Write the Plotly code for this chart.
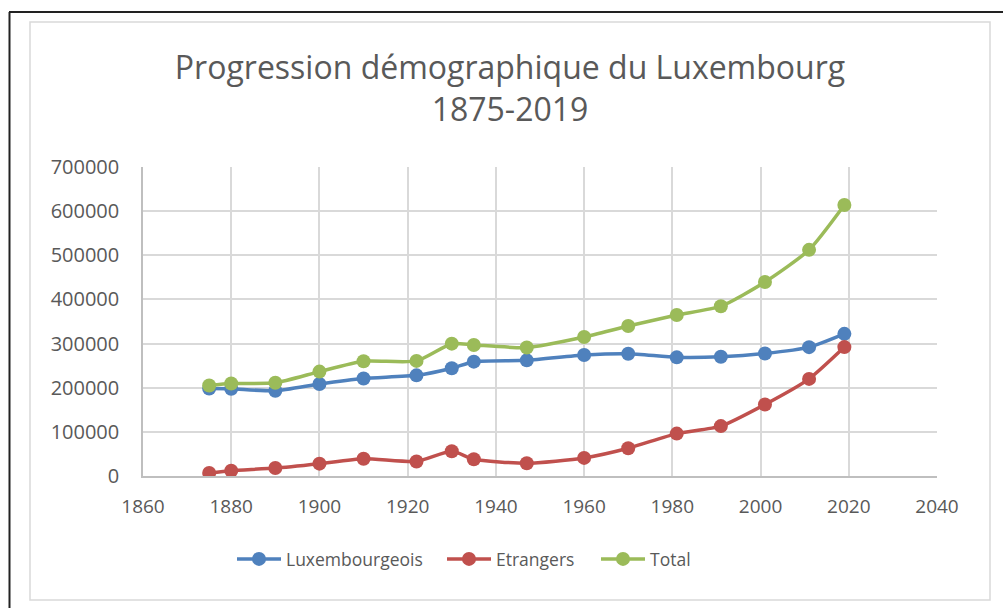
import plotly.graph_objects as go

years = [1875, 1880, 1890, 1900, 1910, 1922, 1930, 1935, 1947, 1960, 1970, 1981, 1991, 2001, 2011, 2019]
luxembourgeois = [198000, 197500, 193000, 208500, 221000, 228000, 244000, 259000, 262000, 274000, 277000, 268800, 270000, 277500, 291900, 322000]
etrangers = [7000, 12000, 18000, 28000, 39000, 33000, 56000, 38000, 29000, 41000, 63000, 96000, 113000, 162000, 220000, 292000]
total = [205158, 209570, 211088, 236543, 259891, 260767, 299782, 296913, 290992, 314889, 339841, 364602, 384634, 439539, 512353, 613894]

series = [
    ("Luxembourgeois", luxembourgeois, "#4F81BD"),
    ("Etrangers", etrangers, "#C0504D"),
    ("Total", total, "#9BBB59"),
]

W, H = 1003, 608
L, R, T, B = 143, 937, 167, 476
FONT = "Open Sans"

def px(x):
    return (x - L) / (R - L)

def py(y):
    return (B - y) / (B - T)

legend_names = ["legend", "legend2", "legend3"]
legend_left = [232, 442, 596]

fig = go.Figure()
for (name, vals, col), lg in zip(series, legend_names):
    fig.add_trace(go.Scatter(
        x=years, y=vals, name=name, mode="lines+markers",
        line=dict(color=col, width=3.5, shape="spline", smoothing=0.6),
        marker=dict(color=col, size=14),
        legend=lg,
    ))

shapes = [
    dict(type="line", xref="paper", yref="paper", x0=px(9), x1=px(1003), y0=py(12), y1=py(12),
         line=dict(color="#222222", width=2)),
    dict(type="line", xref="paper", yref="paper", x0=px(9.5), x1=px(9.5), y0=py(12), y1=py(608),
         line=dict(color="#222222", width=2)),
    dict(type="rect", xref="paper", yref="paper", x0=px(30), x1=px(990), y0=py(22), y1=py(600),
         line=dict(color="#D9D9D9", width=1.5), fillcolor="rgba(0,0,0,0)"),
]

legend_style = dict(orientation="h", xanchor="left", yanchor="middle", y=py(559),
                    font=dict(size=17.5, color="#595959"), itemwidth=44,
                    bgcolor="rgba(0,0,0,0)", borderwidth=0)

fig.update_layout(
    width=W, height=H,
    margin=dict(l=L, r=W - R, t=T, b=H - B),
    paper_bgcolor="white", plot_bgcolor="white",
    font=dict(family=FONT, color="#595959"),
    title=dict(text="Progression démographique du Luxembourg<br>1875-2019",
               x=510 / W, xanchor="center", y=1 - 79 / H, yanchor="middle",
               font=dict(family=FONT, size=32, color="#595959")),
    xaxis=dict(range=[1860, 2040], tick0=1860, dtick=20, showgrid=True, gridcolor="#D9D9D9",
               gridwidth=1.5, zeroline=False, showline=True, linecolor="#BFBFBF", linewidth=1.5,
               ticks="", ticklabelstandoff=12, tickfont=dict(size=19, color="#595959"), fixedrange=True),
    yaxis=dict(range=[0, 700000], tick0=0, dtick=100000, showgrid=True, gridcolor="#D9D9D9",
               gridwidth=1.5, zeroline=False, showline=True, linecolor="#BFBFBF", linewidth=1.5,
               ticks="", ticklabelstandoff=18, tickformat="d", tickfont=dict(size=20, color="#595959"),
               fixedrange=True),
    shapes=shapes,
    showlegend=True,
)
for lg, xl in zip(legend_names, legend_left):
    fig.update_layout({lg: dict(legend_style, x=px(xl))})

fig.write_html("out.html", config={"displayModeBar": False},
               post_script="document.body.style.margin='0';document.body.style.overflow='hidden';")
